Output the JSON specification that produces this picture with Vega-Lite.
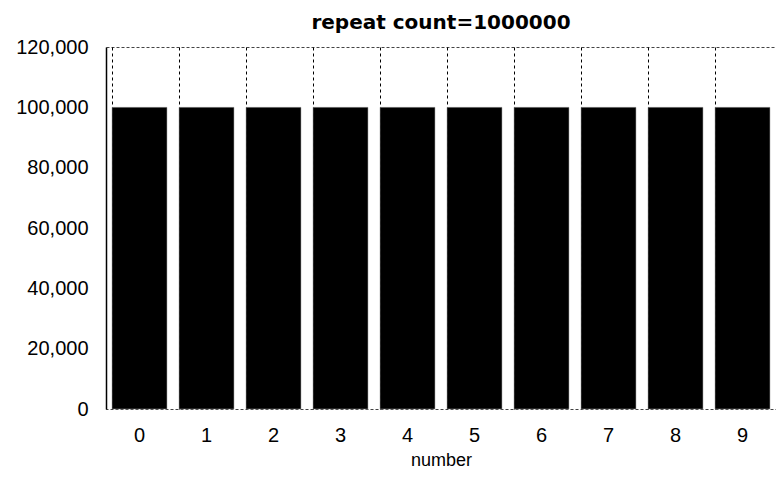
{
  "$schema": "https://vega.github.io/schema/vega-lite/v6.json",
  "autosize": {"type": "none"},
  "padding": {"left": 106, "top": 47, "right": 0, "bottom": 72},
  "width": 670,
  "height": 362,
  "background": "white",
  "title": {
    "text": "repeat count=1000000",
    "font": "DejaVu Sans",
    "fontSize": 20,
    "fontWeight": "bold",
    "color": "black",
    "offset": 4
  },
  "data": {
    "values": [
      {"number": "0", "count": 100000},
      {"number": "1", "count": 100000},
      {"number": "2", "count": 100000},
      {"number": "3", "count": 100000},
      {"number": "4", "count": 100000},
      {"number": "5", "count": 100000},
      {"number": "6", "count": 100000},
      {"number": "7", "count": 100000},
      {"number": "8", "count": 100000},
      {"number": "9", "count": 100000}
    ]
  },
  "mark": {"type": "bar", "color": "black", "stroke": "#999", "strokeWidth": 0.5},
  "encoding": {
    "x": {
      "field": "number",
      "type": "ordinal",
      "scale": {"paddingInner": 0.18, "paddingOuter": 0.09},
      "axis": {
        "title": "number",
        "labelAngle": 0,
        "ticks": false,
        "domain": false,
        "grid": true,
        "bandPosition": 0,
        "gridColor": "black",
        "gridDash": [3, 3],
        "gridWidth": 1,
        "gridOpacity": 1,
        "labelFont": "Liberation Sans",
        "labelFontSize": 20,
        "labelColor": "black",
        "labelPadding": 16,
        "titleFont": "Liberation Sans",
        "titleFontSize": 18,
        "titleFontWeight": "normal",
        "titleColor": "black",
        "titlePadding": 6
      }
    },
    "y": {
      "field": "count",
      "type": "quantitative",
      "scale": {"domain": [0, 120000], "nice": false},
      "axis": {
        "title": null,
        "format": ",d",
        "values": [0, 20000, 40000, 60000, 80000, 100000, 120000],
        "grid": false,
        "ticks": false,
        "domainColor": "black",
        "domainWidth": 1.5,
        "labelFont": "Liberation Sans",
        "labelFontSize": 20,
        "labelColor": "black",
        "labelPadding": 18
      }
    }
  },
  "config": {
    "view": {"stroke": "#444", "strokeDash": [3, 2], "strokeWidth": 1}
  }
}
